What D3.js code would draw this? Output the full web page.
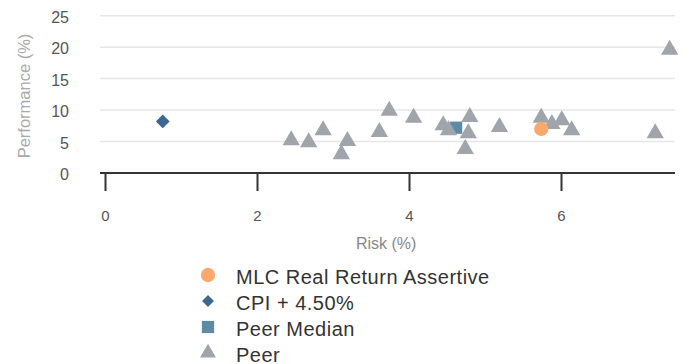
<!DOCTYPE html>
<html>
<head>
<meta charset="utf-8">
<script src="https://cdn.jsdelivr.net/npm/d3@7"></script>
<style>
  body { margin: 0; background: #fff; font-family: "Liberation Sans", Arial, sans-serif; }
</style>
</head>
<body>
<div id="chart"></div>
<script>
// data
var fundName = "MLC Real Return Assertive";
var fundPoint = [5.74, 7.0];
var cpiName = "CPI + 4.50%";
var cpiPoint = [0.76, 8.2];
var medianName = "Peer Median";
var medianPoint = [4.62, 7.2];
var peerName = "Peer";
var peerRisk = [2.45, 2.68, 2.87, 3.11, 3.19, 3.61, 3.74, 4.06, 4.45, 4.52, 4.80, 4.78, 4.74, 5.19, 5.74, 5.88, 6.01, 6.14, 7.24, 7.43];
var peerPerf = [5.2, 4.9, 6.8, 3.0, 5.1, 6.5, 9.9, 8.8, 7.6, 6.8, 8.9, 6.3, 3.8, 7.3, 8.8, 7.8, 8.4, 6.8, 6.3, 19.6];
var xTicks = [0, 2, 4, 6];
var yTicks = [0, 5, 10, 15, 20, 25];

function chartBasics() {
    var margin = { top: 15.7, right: 9, bottom: 191, left: 100 },
        width = 684 - margin.left - margin.right,
        height = 364 - margin.top - margin.bottom;
    return { margin: margin, width: width, height: height };
}

var basics = chartBasics();
var margin = basics.margin, width = basics.width, height = basics.height;

var svg = d3.select("#chart").append("svg")
    .attr("width", 684)
    .attr("height", 364);

var plot = svg.append("g")
    .attr("transform", "translate(" + margin.left + "," + margin.top + ")");

// x: 0 sits 5px in from the plot edge
var xScale = d3.scaleLinear().domain([0, 7.5]).range([5, width]);
var yScale = d3.scaleLinear().domain([0, 25]).range([height, 0]);

// gridlines
plot.selectAll(".grid")
    .data(yTicks.slice(1))
    .enter().append("line")
    .attr("class", "grid")
    .attr("x1", 0).attr("x2", width)
    .attr("y1", function(d) { return yScale(d); })
    .attr("y2", function(d) { return yScale(d); })
    .attr("stroke", "#e6e6e6")
    .attr("stroke-width", 1.5);

// y tick labels
plot.selectAll(".ylbl")
    .data(yTicks)
    .enter().append("text")
    .attr("class", "ylbl")
    .attr("x", -31)
    .attr("y", function(d) { return yScale(d) + 7; })
    .attr("text-anchor", "end")
    .attr("font-size", 16)
    .attr("fill", "#555")
    .text(function(d) { return d; });

// x axis
var xAxis = d3.axisBottom(xScale)
    .tickValues(xTicks)
    .tickSize(18)
    .tickPadding(19)
    .tickSizeOuter(0);

var gx = plot.append("g")
    .attr("transform", "translate(0," + height + ")")
    .call(xAxis);
gx.select(".domain").attr("d", "M0,0H" + width).attr("stroke", "#333").attr("stroke-width", 2);
gx.selectAll(".tick line").attr("stroke", "#333").attr("stroke-width", 2);
gx.selectAll(".tick text")
    .attr("font-size", 15)
    .attr("font-family", "'Liberation Sans', Arial, sans-serif")
    .attr("fill", "#555");

// axis titles
svg.append("text")
    .attr("x", margin.left + xScale(3.7))
    .attr("y", 249)
    .attr("text-anchor", "middle")
    .attr("font-size", 16)
    .attr("fill", "#888")
    .text("Risk (%)");

svg.append("text")
    .attr("transform", "translate(30,96) rotate(-90)")
    .attr("text-anchor", "middle")
    .attr("font-size", 16.5)
    .attr("fill", "#aaa")
    .text("Performance (%)");

// marks
var peerColor = "#9fa5ab",
    cpiColor = "#3d6690",
    medianColor = "#5e8ba3",
    fundColor = "#f9a86e";

var triangle = d3.symbol().type(d3.symbolTriangle).size(130);
var diamond = d3.symbol().type(d3.symbolSquare).size(95);
var square = d3.symbol().type(d3.symbolSquare).size(150);
var circle = d3.symbol().type(d3.symbolCircle).size(160);

var peers = peerRisk.map(function(r, i) { return { risk: r, perf: peerPerf[i] }; });

plot.append("path")
    .attr("d", square)
    .attr("fill", medianColor)
    .attr("transform", "translate(" + xScale(medianPoint[0]) + "," + yScale(medianPoint[1]) + ")");

plot.selectAll(".peer")
    .data(peers)
    .enter().append("path")
    .attr("class", "peer")
    .attr("d", triangle)
    .attr("fill", peerColor)
    .attr("transform", function(d) {
        return "translate(" + xScale(d.risk) + "," + yScale(d.perf) + ")";
    });

plot.append("path")
    .attr("d", diamond)
    .attr("fill", cpiColor)
    .attr("transform", "translate(" + xScale(cpiPoint[0]) + "," + yScale(cpiPoint[1]) + ") rotate(45)");

plot.append("path")
    .attr("d", circle)
    .attr("fill", fundColor)
    .attr("transform", "translate(" + xScale(fundPoint[0]) + "," + yScale(fundPoint[1]) + ")");

// legend
var legendItems = [
    { name: fundName, sym: circle, color: fundColor, rot: 0 },
    { name: cpiName, sym: d3.symbol().type(d3.symbolSquare).size(70), color: cpiColor, rot: 45 },
    { name: medianName, sym: d3.symbol().type(d3.symbolSquare).size(150), color: medianColor, rot: 0 },
    { name: peerName, sym: d3.symbol().type(d3.symbolTriangle).size(110), color: peerColor, rot: 0 }
];

var legend = svg.selectAll(".legend")
    .data(legendItems)
    .enter().append("g")
    .attr("class", "legend")
    .attr("transform", function(d, i) { return "translate(208," + (275 + i * 26) + ")"; });

legend.append("path")
    .attr("d", function(d) { return d.sym(); })
    .attr("fill", function(d) { return d.color; })
    .attr("transform", function(d) { return "rotate(" + d.rot + ")"; });

legend.append("text")
    .attr("x", 28)
    .attr("y", 9)
    .attr("font-size", 20)
    .attr("letter-spacing", 0.5)
    .attr("fill", "#333")
    .text(function(d) { return d.name; });
</script>
</body>
</html>
